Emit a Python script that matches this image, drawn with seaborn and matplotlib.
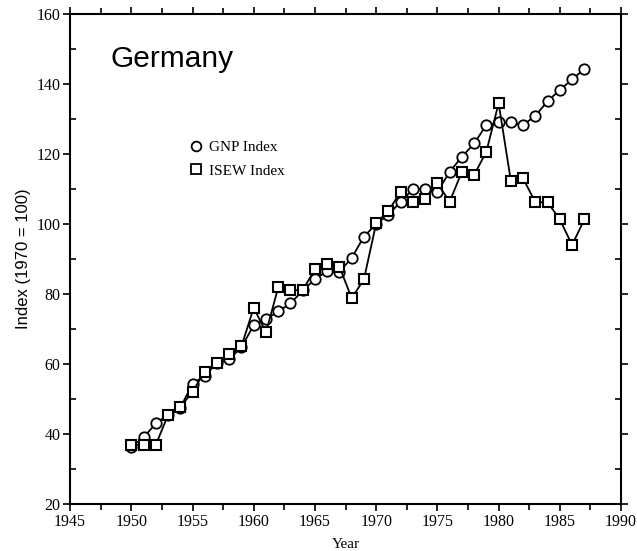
import numpy as np
import pandas as pd
import matplotlib
matplotlib.use("Agg")
import matplotlib.pyplot as plt
from matplotlib.lines import Line2D
from matplotlib.ticker import MultipleLocator
import seaborn as sns

# data
years = list(range(1950, 1988))
gnp_index = [36.4, 39.0, 43.0, 45.5, 47.5, 54.3, 56.7, 60.2, 61.3, 64.8,
             71.1, 72.8, 75.0, 77.3, 81.0, 84.2, 86.6, 86.4, 90.3, 96.4,
             100.0, 102.6, 106.4, 109.9, 109.9, 109.2, 114.9, 119.2, 123.0, 128.3,
             129.0, 129.0, 128.3, 130.9, 135.1, 138.3, 141.3, 144.3]
isew_index = [36.9, 36.9, 36.9, 45.4, 47.6, 52.1, 57.8, 60.2, 62.8, 65.1,
              76.1, 69.0, 81.9, 81.1, 81.1, 87.1, 88.6, 87.8, 78.8, 84.2,
              100.2, 103.8, 109.2, 106.2, 107.0, 111.6, 106.4, 114.9, 114.0, 120.7,
              134.5, 112.3, 113.0, 106.2, 106.2, 101.3, 94.0, 101.3]

df = pd.DataFrame({"Year": years, "GNP": gnp_index, "ISEW": isew_index})

sns.set_style("ticks")
plt.rcParams.update({"text.color": "black", "axes.labelcolor": "black",
                     "xtick.color": "black", "ytick.color": "black"})
serif = "Liberation Serif"
sans = "Liberation Sans"

fig = plt.figure(figsize=(6.37, 5.51), dpi=100)
ax = fig.add_axes([0.110, 0.0853, 0.865, 0.8893])

sns.lineplot(data=df, x="Year", y="GNP", ax=ax, color="black", lw=1.3,
             marker="o", markersize=7.5, markerfacecolor="white",
             markeredgecolor="black", markeredgewidth=1.3, zorder=3)
sns.lineplot(data=df, x="Year", y="ISEW", ax=ax, color="black", lw=1.3,
             marker="s", markersize=7.5, markerfacecolor="white",
             markeredgecolor="black", markeredgewidth=1.5, zorder=4)

ax.set_xlim(1945, 1990)
ax.set_ylim(20, 160)
ax.xaxis.set_major_locator(MultipleLocator(5))
ax.xaxis.set_minor_locator(MultipleLocator(2.5))
ax.yaxis.set_major_locator(MultipleLocator(20))
ax.yaxis.set_minor_locator(MultipleLocator(10))

for s in ax.spines.values():
    s.set_visible(True)
    s.set_linewidth(1.5)
    s.set_color("black")

ax.tick_params(axis="both", which="both", top=True, right=True,
               color="black", width=1.2)
ax.tick_params(axis="both", which="major", direction="out", length=5,
               labelsize=11.5, pad=2)
ax.tick_params(axis="x", which="minor", direction="out", length=4)
ax.tick_params(axis="y", which="minor", direction="in", length=4)
for lab in ax.get_xticklabels() + ax.get_yticklabels():
    lab.set_fontfamily(serif)

ax.set_xlabel("Year", fontsize=11, fontfamily=serif, labelpad=6)
ax.set_ylabel("Index (1970 = 100)", fontsize=12, fontfamily=sans, labelpad=4)

ax.text(0.073, 0.908, "Germany", transform=ax.transAxes, fontsize=21.5,
        fontfamily=sans, va="center", ha="left")

handles = [
    Line2D([], [], ls="none", marker="o", markersize=7, markerfacecolor="white",
           markeredgecolor="black", markeredgewidth=1.3),
    Line2D([], [], ls="none", marker="s", markersize=7, markerfacecolor="white",
           markeredgecolor="black", markeredgewidth=1.3),
]
ax.legend(handles, ["GNP Index", "ISEW Index"], loc="upper left",
          bbox_to_anchor=(0.2, 0.758), frameon=False,
          prop={"family": serif, "size": 11}, handlelength=1.0,
          handletextpad=0.4, labelspacing=0.65, borderpad=0)

fig.savefig("out.png", dpi=100)
